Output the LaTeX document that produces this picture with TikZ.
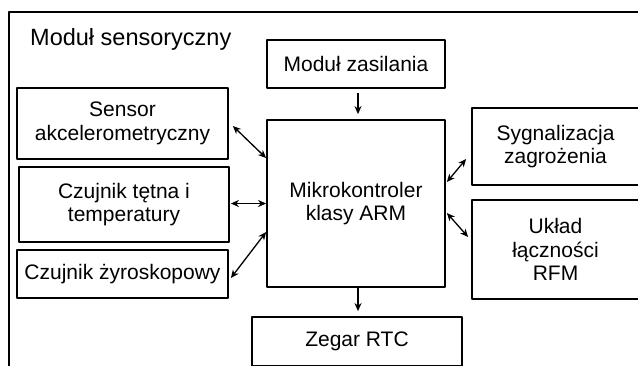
\documentclass[tikz,border=0pt]{standalone}
\usepackage{fontspec}
\setmainfont{Liberation Sans}
\usetikzlibrary{positioning, arrows.meta}

\tikzset{
  blok/.style={draw, line width=1.8pt, inner sep=0pt, align=center,
    font=\fontsize{21}{23.5}\selectfont},
  polacz/.style={line width=1.3pt}
}

\begin{document}
\begin{tikzpicture}[x=1pt, y=-1pt, >={Stealth[length=8pt, width=7pt, inset=2.5pt]}, line join=bevel]
	     %
             \useasboundingbox (0,0) rectangle (638,365);
             \clip (0,0) rectangle (638,365);
             \draw[line width=1.8pt] (9,12) rectangle (680,400);
             \node[anchor=base west, inner sep=0pt, font=\fontsize{23.5}{27}\selectfont] (tytul) at (30,45) {Moduł sensoryczny};
             %
             \node[blok, minimum width=178pt, minimum height=48pt] (zas) at (356,64) {Moduł zasilania};
             \node[blok, minimum width=178pt, minimum height=167pt] (mcu) at (356,203.5) {Mikrokontroler\\ klasy ARM};
             \node[blok, minimum width=167pt, minimum height=77pt] (syg) at (555.5,146.5) {Sygnalizacja\\ zagrożenia};
             \node[blok, minimum width=167pt, minimum height=99pt] (ukl) at (555.5,249.5) {Układ\\ łączności\\ RFM};
             \node[blok, minimum width=210pt, minimum height=49pt] (rtc) at (357,341.5) {Zegar RTC};
             \node[blok, minimum width=211pt, minimum height=71pt] (akc) at (122.5,123.5) {Sensor\\ akcelerometryczny};
             \node[blok, minimum width=210pt, minimum height=75pt] (tet) at (124,204.5) {Czujnik tętna i\\ temperatury};
             \node[blok, minimum width=211pt, minimum height=48pt] (zyr) at (122.5,274) {Czujnik żyroskopowy};
             %
             \path[polacz, <->] ([shift={(4,2.5)}]akc.east) edge[] ([shift={(0,-45.5)}]mcu.west);
             \path[polacz, <->] ([xshift=1pt]tet.east |- mcu.west) edge[] (mcu.west);
             \path[polacz, <->] ([shift={(2,4)}]zyr.east) edge[] ([shift={(0,28.5)}]mcu.west);
             \path[polacz, <->] ([shift={(1,-21.5)}]mcu.east) edge[] ([shift={(-5,12.5)}]syg.west);
             \path[polacz, <->] ([shift={(1,9.5)}]mcu.east) edge[] ([shift={(-3,-12.5)}]ukl.west);
             \path[polacz, ->] ([shift={(2,4)}]zas.south) edge[] ([shift={(2,-5)}]mcu.north);
             \path[polacz, ->] ([shift={(2,0)}]mcu.south) edge[] ([shift={(1,-5)}]rtc.north);
          \end{tikzpicture}
\end{document}
